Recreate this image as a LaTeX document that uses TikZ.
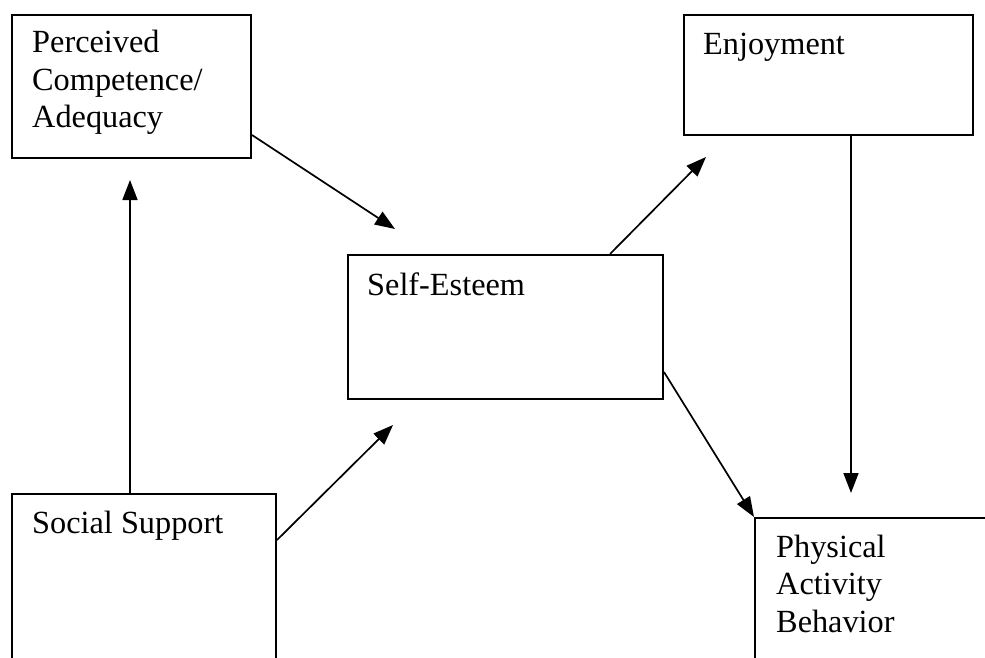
\documentclass[tikz,border=0pt]{standalone}
\usepackage{fontspec}
\setmainfont{Liberation Serif}
\usetikzlibrary{arrows.meta,calc}
\tikzset{
  box/.style={draw=black, line width=2pt, rectangle, inner sep=0pt, anchor=north west},
  lbl/.style={anchor=base west, inner sep=0pt, font=\fontsize{32.3}{37.5}\selectfont},
  arr/.style={line width=1.7pt, -{Triangle[length=20pt,width=15pt]}}
}
\begin{document}
\begin{tikzpicture}[x=1pt,y=-1pt]
\useasboundingbox (0,0) rectangle (985,658);
\clip (0,0) rectangle (985,658);
\fill[white] (0,0) rectangle (985,658);
% boxes
\node[box, minimum width=239pt, minimum height=143pt] (pc) at (11,14) {};
\node[box, minimum width=264pt, minimum height=300pt] (ss) at (11,493) {};
\node[box, minimum width=315pt, minimum height=144pt] (se) at (347,254) {};
\node[box, minimum width=289pt, minimum height=120pt] (en) at (683,14) {};
\node[box, minimum width=300pt, minimum height=300pt] (pa) at (754,517) {};
% labels
\node[lbl] (pct) at (32,53) {\begin{tabular}[t]{@{}l@{}}Perceived\\Competence/\\Adequacy\end{tabular}};
\node[lbl] (sst) at (32,533) {Social Support};
\node[lbl] (set) at (367,295) {Self-Esteem};
\node[lbl] (ent) at (703,55) {Enjoyment};
\node[lbl] (pat) at (776,557) {\begin{tabular}[t]{@{}l@{}}Physical\\Activity\\Behavior\end{tabular}};
% arrow ends
\coordinate (t1) at (130,180);
\coordinate (t2) at (395,229);
\coordinate (t3) at (393,425);
\coordinate (t4) at (706,157);
\coordinate (t5) at (851,493);
% connectors
\draw[arr] ($(ss.north west)+(119,0)$) -- (t1);
\draw[arr] ($(pc.north east)+(0,121)$) -- (t2);
\draw[arr] ($(ss.north east)+(0,47)$) -- (t3);
\draw[arr] ($(se.north west)+(263,0)$) -- (t4);
\draw[arr] ($(en.south west)+(168,0)$) -- (t5);
\draw[arr] ($(se.north east)+(0,118)$) -- (pa.north west);
\end{tikzpicture}
\end{document}
